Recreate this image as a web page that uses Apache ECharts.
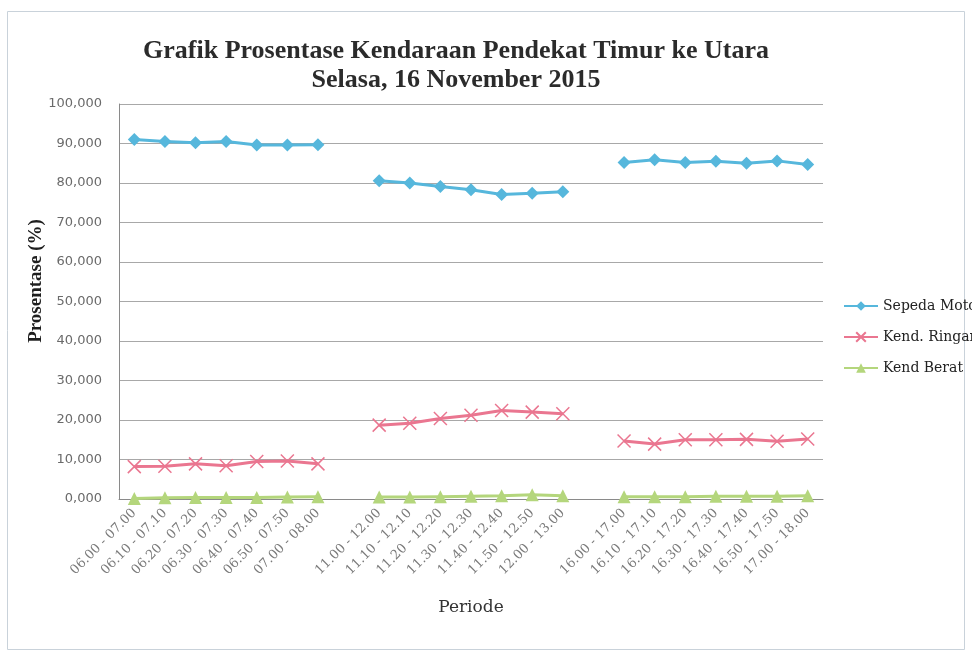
<!DOCTYPE html>
<html>
<head>
<meta charset="utf-8">
<script src="https://cdn.jsdelivr.net/npm/echarts@6/dist/echarts.min.js"></script>
<style>
  html, body { margin: 0; padding: 0; background: #ffffff; }
  #chart { width: 972px; height: 654px; }
</style>
</head>
<body>
<div id="chart"></div>
<script>
// Time periods (an empty slot separates the morning, midday and evening sessions)
const periods = [
  '06.00 - 07.00', '06.10 - 07.10', '06.20 - 07.20', '06.30 - 07.30', '06.40 - 07.40', '06.50 - 07.50', '07.00 - 08.00',
  '',
  '11.00 - 12.00', '11.10 - 12.10', '11.20 - 12.20', '11.30 - 12.30', '11.40 - 12.40', '11.50 - 12.50', '12.00 - 13.00',
  '',
  '16.00 - 17.00', '16.10 - 17.10', '16.20 - 17.20', '16.30 - 17.30', '16.40 - 17.40', '16.50 - 17.50', '17.00 - 18.00'
];

// Percentage of each vehicle type (null = gap between sessions)
const sepedaMotor = [
  91.0, 90.5, 90.2, 90.5, 89.6, 89.6, 89.7,
  null,
  80.6, 80.0, 79.1, 78.3, 77.1, 77.4, 77.8,
  null,
  85.2, 85.9, 85.2, 85.5, 85.0, 85.6, 84.7
];
const kendRingan = [
  8.2, 8.3, 8.9, 8.4, 9.5, 9.6, 8.9,
  null,
  18.7, 19.2, 20.4, 21.2, 22.4, 22.0, 21.6,
  null,
  14.7, 13.9, 15.0, 15.0, 15.1, 14.6, 15.2
];
const kendBerat = [
  0.1, 0.3, 0.4, 0.4, 0.4, 0.5, 0.6,
  null,
  0.5, 0.5, 0.6, 0.7, 0.8, 1.1, 0.8,
  null,
  0.6, 0.6, 0.6, 0.7, 0.7, 0.7, 0.8
];

const seriesNames = ['Sepeda Motor', 'Kend. Ringan', 'Kend Berat'];
const titleLines = ['Grafik Prosentase Kendaraan Pendekat Timur ke Utara', 'Selasa, 16 November 2015'];

const SERIF = '"Liberation Serif", "Times New Roman", serif';
const chart = echarts.init(document.getElementById('chart'), null, { renderer: 'canvas' });

chart.setOption({
  backgroundColor: '#ffffff',
  animation: false,
  title: {
    text: titleLines.join('\n'),
    left: 451,
    top: 32,
    textAlign: 'center',
    textStyle: {
      fontFamily: SERIF,
      fontWeight: 'bold',
      fontSize: 26,
      lineHeight: 29,
      color: '#2b2b2b'
    }
  },
  legend: {
    orient: 'vertical',
    left: 838,
    top: 294,
    itemWidth: 34,
    itemHeight: 12,
    itemGap: 17,
    data: seriesNames,
    textStyle: {
      fontFamily: '"DejaVu Serif", serif',
      fontSize: 14,
      color: '#222222'
    }
  },
  grid: { left: 119, right: 149, top: 104, bottom: 155 },
  xAxis: {
    type: 'category',
    data: periods,
    boundaryGap: true,
    name: 'Periode',
    nameLocation: 'middle',
    nameGap: 100,
    nameTextStyle: { fontFamily: '"DejaVu Serif", serif', fontSize: 17, color: '#333333' },
    axisLine: { lineStyle: { color: '#8a8a8a', width: 1 } },
    axisTick: { show: false },
    axisLabel: {
      interval: 0,
      rotate: 45,
      margin: 12,
      fontFamily: '"DejaVu Serif", serif',
      fontSize: 13,
      color: '#7a7a7a'
    }
  },
  yAxis: {
    type: 'value',
    min: 0,
    max: 100,
    interval: 10,
    axisLine: { show: true, lineStyle: { color: '#8a8a8a', width: 1 } },
    axisTick: { show: false },
    splitLine: { lineStyle: { color: '#a8a8a8', width: 1 } },
    axisLabel: {
      margin: 17,
      fontFamily: '"DejaVu Sans", sans-serif',
      fontSize: 13,
      color: '#6a6a6a',
      formatter: v => v.toFixed(3).replace('.', ',')
    }
  },
  graphic: [
    {
      type: 'rect',
      silent: true,
      shape: { x: 7.5, y: 11.5, width: 957, height: 638 },
      style: { fill: 'none', stroke: '#c9d2da', lineWidth: 1 }
    },
    {
      type: 'text',
      silent: true,
      x: 36,
      y: 281,
      rotation: Math.PI / 2,
      style: {
        text: 'Prosentase (%)',
        fontFamily: SERIF,
        fontWeight: 'bold',
        fontSize: 19,
        fill: '#1e1e1e',
        align: 'center',
        verticalAlign: 'middle'
      }
    }
  ],
  series: [
    {
      name: seriesNames[0],
      type: 'line',
      data: sepedaMotor,
      connectNulls: false,
      symbol: 'diamond',
      symbolSize: 13,
      lineStyle: { color: '#56b7dc', width: 3 },
      itemStyle: { color: '#56b7dc' }
    },
    {
      name: seriesNames[1],
      type: 'line',
      data: kendRingan,
      connectNulls: false,
      symbol: 'path://M0,0L10,10M10,0L0,10',
      symbolSize: 13,
      lineStyle: { color: '#ea7690', width: 3 },
      itemStyle: { color: '#ea7690', borderColor: '#ea7690', borderWidth: 1.5 }
    },
    {
      name: seriesNames[2],
      type: 'line',
      data: kendBerat,
      connectNulls: false,
      symbol: 'triangle',
      symbolSize: 13,
      lineStyle: { color: '#b4d67c', width: 3 },
      itemStyle: { color: '#b4d67c' }
    }
  ]
});
</script>
</body>
</html>
